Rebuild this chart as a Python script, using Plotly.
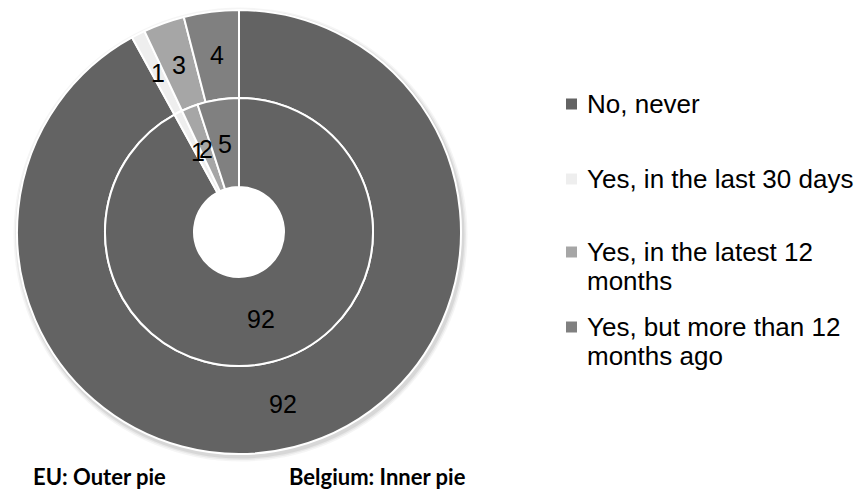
import math
import plotly.graph_objects as go

# ---- data ----
categories = ["No, never", "Yes, in the last 30 days",
              "Yes, in the latest 12 months", "Yes, but more than 12 months ago"]
legend_labels = ["No, never", "Yes, in the last 30 days",
                 "Yes, in the latest 12<br>months", "Yes, but more than 12<br>months ago"]
eu_values = [92, 1, 3, 4]
belgium_values = [92, 1, 2, 5]
colors = ["#636363", "#eeeeee", "#a6a6a6", "#808080"]
ring_titles = ["EU: Outer pie", "Belgium: Inner pie"]

# ---- layout geometry (pixels) ----
W, H = 861, 494
cx, cy = 239, 232
R_out, R_mid, R_hole = 222, 134, 45


def domain(r):
    return dict(x=[(cx - r) / W, (cx + r) / W],
                y=[(H - cy - r) / H, (H - cy + r) / H])


def circle(x, y, r, fill):
    return dict(type="circle", xref="paper", yref="paper", layer="below",
                x0=(x - r) / W, x1=(x + r) / W,
                y0=(H - y - r) / H, y1=(H - y + r) / H,
                fillcolor=fill, line=dict(width=0))


fig = go.Figure()
common = dict(labels=categories, sort=False, direction="clockwise", rotation=0,
              marker=dict(colors=colors, line=dict(color="white", width=2)),
              textinfo="none", hoverinfo="label+value", showlegend=False)

fig.add_trace(go.Pie(values=eu_values, hole=R_mid / R_out, domain=domain(R_out),
                     name="EU", **common))
fig.add_trace(go.Pie(values=belgium_values, hole=R_hole / R_mid, domain=domain(R_mid),
                     name="Belgium", **common))

annotations = []
shapes = []

# ---- soft shadow behind outer ring, white hole on top of it ----
for dr, op in [(5, 0.04), (3.5, 0.05), (2, 0.07)]:
    shapes.append(circle(cx + 1.5, cy + 2.5, R_out + dr, "rgba(0,0,0,%s)" % op))
shapes.append(circle(cx, cy, R_hole + 1, "white"))

# ---- data labels at slice centres (mid angle, mid radius) ----
label_font = dict(family="Arial, Liberation Sans", size=25, color="black")
for vals, r_in, r_outer in [(eu_values, R_mid, R_out), (belgium_values, R_hole, R_mid)]:
    total = sum(vals)
    r = (r_in + r_outer) / 2
    cum = 0
    for v in vals:
        theta = 2 * math.pi * (cum + v / 2) / total
        cum += v
        px = cx + r * math.sin(theta)
        py = cy - r * math.cos(theta)
        annotations.append(dict(text=str(v), xref="paper", yref="paper",
                                x=px / W, y=(H - py) / H,
                                xanchor="center", yanchor="middle",
                                showarrow=False, font=label_font))

# ---- manual legend ----
legend_y = [104, 179, 252, 327]  # first-line centres in px from top
line_gap = 29
for lab, col, y in zip(legend_labels, colors, legend_y):
    shapes.append(dict(type="rect", xref="paper", yref="paper",
                       x0=566 / W, x1=577 / W,
                       y0=(H - y - 5.5) / H, y1=(H - y + 5.5) / H,
                       fillcolor=col, line=dict(width=0)))
    for i, line in enumerate(lab.split("<br>")):
        annotations.append(dict(text=line, xref="paper", yref="paper",
                                x=585 / W, y=(H - y - i * line_gap) / H,
                                xanchor="left", yanchor="middle", align="left",
                                showarrow=False,
                                font=dict(family="Arial, Liberation Sans", size=26,
                                          color="black")))

# ---- ring titles ----
for t, x in zip(ring_titles, [31, 287]):
    annotations.append(dict(text="<b>" + t + "</b>", xref="paper", yref="paper",
                            x=x / W, y=(H - 476) / H, xanchor="left", yanchor="middle",
                            showarrow=False,
                            font=dict(family="Lato, Open Sans", size=22, color="black")))

fig.update_layout(width=W, height=H, margin=dict(l=0, r=0, t=0, b=0),
                  paper_bgcolor="white", plot_bgcolor="white",
                  shapes=shapes, annotations=annotations)

fig.write_html("out.html", config={"displayModeBar": False},
               post_script="document.body.style.margin='0';")
